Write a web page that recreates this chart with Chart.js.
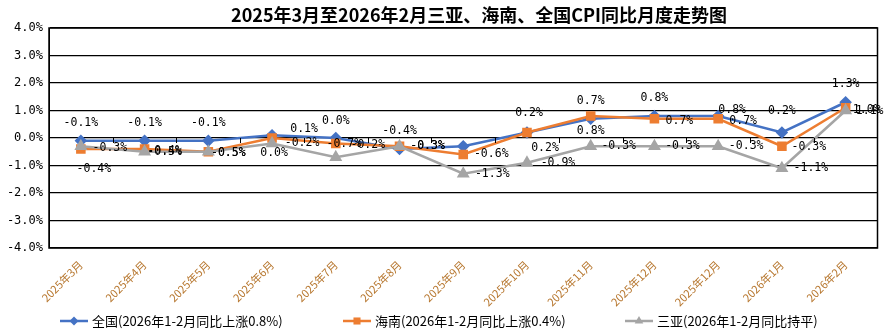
<!DOCTYPE html>
<html>
<head>
<meta charset="utf-8">
<script src="https://cdn.jsdelivr.net/npm/chart.js@4.4.1/dist/chart.umd.min.js"></script>
<style>
  html, body { margin: 0; padding: 0; background: #fff; }
  #container { width: 885px; height: 335px; }
</style>
</head>
<body>
<div id="container">
  <canvas id="myChart" width="885" height="335"></canvas>
</div>
<script>
// categories (x axis labels as they appear, including the repeated 12月)
const months = ['2025年3月', '2025年4月', '2025年5月', '2025年6月', '2025年7月', '2025年8月', '2025年9月',
  '2025年10月', '2025年11月', '2025年12月', '2025年12月', '2026年1月', '2026年2月'];

// CPI year-on-year, %
const national = [-0.1, -0.1, -0.1, 0.1, 0.0, -0.4, -0.3, 0.2, 0.7, 0.8, 0.8, 0.2, 1.3];
const hainan = [-0.4, -0.4, -0.5, 0.0, -0.2, -0.3, -0.6, 0.2, 0.8, 0.7, 0.7, -0.3, 1.1];
const sanya = [-0.3, -0.5, -0.5, -0.2, -0.7, -0.3, -1.3, -0.9, -0.3, -0.3, -0.3, -1.1, 1.0];

const seriesNames = ['全国(2026年1-2月同比上涨0.8%)', '海南(2026年1-2月同比上涨0.4%)', '三亚(2026年1-2月同比持平)'];
const yTicks = [-4, -3, -2, -1, 0, 1, 2, 3, 4];

const titleText = '2025年3月至2026年2月三亚、海南、全国CPI同比月度走势图';
const labelFont = '11.5px "DejaVu Sans Mono", "Liberation Mono", monospace';

// where each value label sits relative to its point: [dx, dy] of text centre, null = hidden
const A = [0, -18];
const labelPos = [
  [A, A, A, [32, -6], [0, -17], A, null, [2, -19], A, A, [14, -6], [0, -21], A],
  [[13, 20], [20, 2], [20, 1], [2, 15], [32, 2], [28, 0], [28, 0], [18, 16], [0, 15], [25, 2], [25, 2], [27, 1], [24, 3]],
  [[29, 2], [20, 0], [20, 1], [30, 0], [8, -13], [28, 0], [29, 0], [31, 0], [28, 0], [28, 0], [28, 0], [29, 0], [21, 0]]
];

const extras = {
  id: 'extras',
  afterDraw(chart) {
    const ctx = chart.ctx;
    const area = chart.chartArea;
    const xs = chart.scales.x, ys = chart.scales.y;
    ctx.save();
    // plot frame
    ctx.strokeStyle = '#000';
    ctx.lineWidth = 1.5;
    ctx.strokeRect(area.left, area.top, area.right - area.left, area.bottom - area.top);
    // category ticks along the zero line
    const y0 = ys.getPixelForValue(0);
    ctx.lineWidth = 1;
    ctx.beginPath();
    for (let i = 0; i < months.length - 1; i++) {
      const x = Math.round((xs.getPixelForValue(i) + xs.getPixelForValue(i + 1)) / 2) + 0.5;
      ctx.moveTo(x, y0);
      ctx.lineTo(x, y0 + 5);
    }
    ctx.stroke();

    // value labels
    ctx.font = labelFont;
    ctx.fillStyle = '#000';
    ctx.textAlign = 'center';
    ctx.textBaseline = 'middle';
    chart.data.datasets.forEach((ds, di) => {
      const meta = chart.getDatasetMeta(di);
      meta.data.forEach((pt, i) => {
        const p = labelPos[di][i];
        if (!p) return;
        ctx.fillText(ds.data[i].toFixed(1) + '%', pt.x + p[0], pt.y + p[1]);
      });
    });

    // title
    ctx.font = 'bold 18px "Noto Sans CJK SC", sans-serif';
    ctx.textBaseline = 'middle';
    ctx.fillText(titleText, 479, 15);

    // legend
    const legendX = [60, 343, 625];
    const ly = 321;
    ctx.font = '13px "Noto Sans CJK SC", sans-serif';
    ctx.textAlign = 'left';
    chart.data.datasets.forEach((ds, di) => {
      const x = legendX[di];
      ctx.strokeStyle = ds.borderColor;
      ctx.lineWidth = 2.5;
      ctx.beginPath();
      ctx.moveTo(x, ly);
      ctx.lineTo(x + 28, ly);
      ctx.stroke();
      ctx.fillStyle = ds.borderColor;
      Chart.helpers.drawPoint(ctx, { pointStyle: ds.pointStyle, radius: ds.pointRadius, rotation: 0 }, x + 14, ly);
      ctx.fillStyle = '#000';
      ctx.fillText(seriesNames[di], x + 32, ly);
    });
    ctx.restore();
  }
};

const ctx = document.getElementById('myChart').getContext('2d');
new Chart(ctx, {
  type: 'line',
  data: {
    labels: months,
    datasets: [
      { label: seriesNames[0], data: national, borderColor: '#4472C4', backgroundColor: '#4472C4',
        pointStyle: 'rectRot', pointRadius: 4.5, borderWidth: 2.5, order: 3 },
      { label: seriesNames[1], data: hainan, borderColor: '#ED7D31', backgroundColor: '#ED7D31',
        pointStyle: 'rect', pointRadius: 5, borderWidth: 2.5, order: 2 },
      { label: seriesNames[2], data: sanya, borderColor: '#A5A5A5', backgroundColor: '#A5A5A5',
        pointStyle: 'triangle', pointRadius: 5, borderWidth: 2.5, order: 1 }
    ]
  },
  options: {
    responsive: false,
    animation: false,
    events: [],
    layout: { padding: { left: 0, right: 2, top: 28, bottom: 25 } },
    plugins: {
      legend: { display: false },
      title: { display: false },
      tooltip: { enabled: false }
    },
    scales: {
      x: {
        offset: true,
        grid: { display: false },
        border: { display: false },
        afterFit: (scale) => { scale.height = 62; },
        ticks: {
          color: '#b7772f',
          font: { size: 11, family: '"Noto Sans CJK SC", sans-serif' },
          minRotation: 45,
          maxRotation: 45,
          autoSkip: false,
          padding: 2
        }
      },
      y: {
        min: -4,
        max: 4,
        afterFit: (scale) => { scale.width = 49; },
        afterBuildTicks: (scale) => { scale.ticks = yTicks.map(v => ({ value: v })); },
        grid: { color: '#000', lineWidth: 1.2, drawTicks: false },
        border: { color: '#000' },
        ticks: {
          color: '#000',
          padding: 6,
          font: { size: 12, family: '"DejaVu Sans Mono", "Liberation Mono", monospace' },
          callback: (v) => v.toFixed(1) + '%'
        }
      }
    }
  },
  plugins: [extras]
});
</script>
</body>
</html>
